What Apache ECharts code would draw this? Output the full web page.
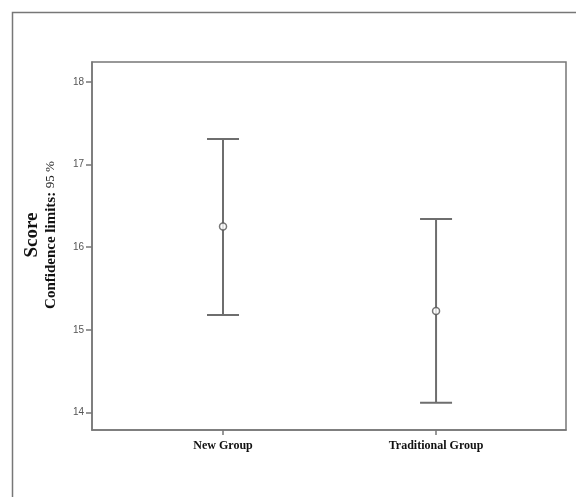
<!DOCTYPE html>
<html>
<head>
<meta charset="utf-8">
<script src="https://cdn.jsdelivr.net/npm/echarts@6/dist/echarts.min.js"></script>
<style>
  html, body { margin: 0; padding: 0; background: #fff; }
  #chart { width: 576px; height: 497px; }
</style>
</head>
<body>
<div id="chart"></div>
<script>
// data
const groups = ['New Group', 'Traditional Group']
const groupPos = [1, 2]
const means = [16.25, 15.23]
const lower = [15.18, 14.12]
const upper = [17.31, 16.34]
const yTicks = [14, 15, 16, 17, 18]

const myChart = echarts.init(document.getElementById('chart'))

const lineColor = '#6e6e6e'

const option = {
  backgroundColor: '#fff',
  animation: false,
  graphic: [
    {
      type: 'rect',
      left: 10,
      top: 10,
      shape: { width: 700, height: 700 },
      style: { fill: 'none', stroke: '#777', lineWidth: 1.5 },
    },
  ],
  grid: {
    left: 92,
    top: 62,
    right: 10,
    bottom: 67,
    show: true,
    borderColor: '#777',
    borderWidth: 1.5,
  },
  xAxis: {
    type: 'value',
    min: 0.385,
    max: 2.61,
    splitLine: { show: false },
    axisLine: { show: true, lineStyle: { color: '#777', width: 1.5 } },
    axisTick: {
      show: true,
      customValues: groupPos,
      length: 5,
      lineStyle: { color: '#777', width: 1.5 },
    },
    axisLabel: {
      customValues: groupPos,
      margin: 10,
      formatter: (v) => groups[groupPos.indexOf(v)] || '',
      fontFamily: 'Liberation Serif',
      fontWeight: 'bold',
      fontSize: 12,
      color: '#111',
    },
  },
  yAxis: {
    type: 'value',
    min: 13.79,
    max: 18.24,
    splitLine: { show: false },
    axisLine: { show: true, lineStyle: { color: '#777', width: 1.5 } },
    axisTick: {
      show: true,
      customValues: yTicks,
      length: 6,
      lineStyle: { color: '#777', width: 1.5 },
    },
    axisLabel: {
      customValues: yTicks,
      margin: 8,
      fontFamily: 'Liberation Sans',
      fontSize: 10,
      color: '#555',
    },
    name: '{a|Score}\n{b|Confidence limits: }{c|95 %}',
    nameLocation: 'middle',
    nameRotate: 90,
    nameGap: 32,
    nameTextStyle: {
      padding: [0, 0, 0, 22],
      rich: {
        a: {
          fontFamily: 'Liberation Serif',
          fontWeight: 'bold',
          fontSize: 19,
          color: '#111',
          lineHeight: 20,
        },
        b: {
          fontFamily: 'Liberation Serif',
          fontWeight: 'bold',
          fontSize: 15,
          color: '#111',
          lineHeight: 18,
        },
        c: {
          fontFamily: 'Liberation Serif',
          fontSize: 13,
          color: '#222',
          lineHeight: 18,
        },
      },
    },
  },
  series: [
    {
      type: 'custom',
      name: 'CI',
      data: groupPos.map((x, i) => [x, lower[i], upper[i]]),
      renderItem: (params, api) => {
        const x = api.value(0)
        const lo = api.coord([x, api.value(1)])
        const hi = api.coord([x, api.value(2)])
        const half = 16
        const style = { stroke: lineColor, lineWidth: 2 }
        return {
          type: 'group',
          children: [
            { type: 'line', shape: { x1: lo[0], y1: lo[1], x2: hi[0], y2: hi[1] }, style },
            { type: 'line', shape: { x1: hi[0] - half, y1: hi[1], x2: hi[0] + half, y2: hi[1] }, style },
            { type: 'line', shape: { x1: lo[0] - half, y1: lo[1], x2: lo[0] + half, y2: lo[1] }, style },
          ],
        }
      },
      z: 2,
    },
    {
      type: 'scatter',
      name: 'Mean',
      data: groupPos.map((x, i) => [x, means[i]]),
      symbol: 'circle',
      symbolSize: 7,
      itemStyle: { color: '#fff', borderColor: '#555', borderWidth: 1.5 },
      z: 3,
    },
  ],
}

myChart.setOption(option)
</script>
</body>
</html>
